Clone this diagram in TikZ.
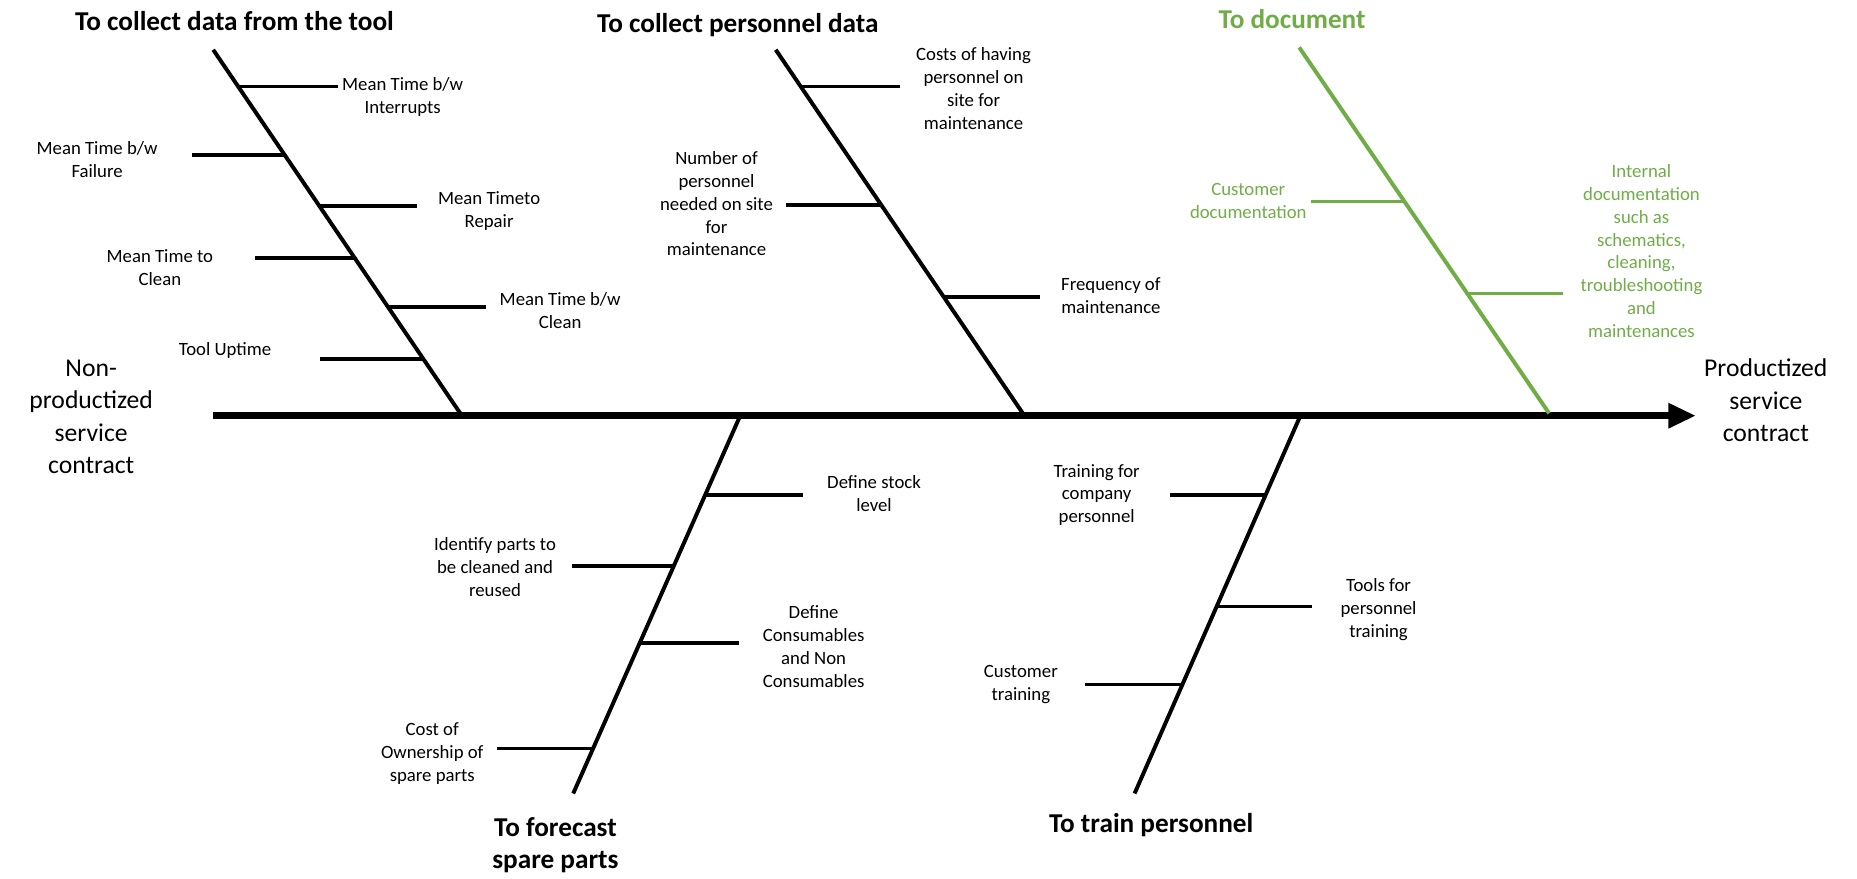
\documentclass[tikz,border=0pt]{standalone}
\usepackage{fontspec}
\setmainfont{Carlito}
\usepackage{xcolor}
\usetikzlibrary{arrows.meta}
\definecolor{docgreen}{HTML}{70AD47}

\begin{document}
\begin{tikzpicture}[x=0.6pt,y=-0.6pt,
  lbl/.style={align=center,inner sep=0pt,font=\fontsize{9.5}{11.6}\selectfont},
  ttl/.style={align=center,inner sep=0pt,font=\fontsize{13.8}{16.2}\selectfont\bfseries},
  big/.style={align=center,inner sep=0pt,font=\fontsize{13}{16.3}\selectfont},
  bone/.style={line width=2pt},
  rib/.style={line width=1.8pt}]
\useasboundingbox (0,0) rectangle (1568,742);

% spine
\coordinate (tail) at (180,351);
\coordinate (head) at (1432,351);
\draw[line width=3.6pt,-{Triangle[length=14pt,width=12pt]}] (tail) -- (head);
\draw (77,352) node[big](start){Non-\\productized\\service\\contract};
\draw (1491,338) node[big](goal){Productized\\service\\contract};

% to collect data from the tool
\draw (198,18) node[ttl](tool){To collect data from the tool};
\coordinate (toolTop) at (180,42);
\coordinate (toolFoot) at (390,351);
\draw[bone] (toolTop) -- (toolFoot);
\coordinate (a1) at (201.1,73);  \coordinate (a1e) at (285,73);
\coordinate (a2) at (240.5,131); \coordinate (a2e) at (162,131);
\coordinate (a3) at (269.7,174); \coordinate (a3e) at (352,174);
\coordinate (a4) at (299.6,218); \coordinate (a4e) at (215,218);
\coordinate (a5) at (327.5,259); \coordinate (a5e) at (410,259);
\coordinate (a6) at (357.4,303); \coordinate (a6e) at (270,303);
\draw[rib] (a1) -- (a1e);
\draw[rib] (a2) -- (a2e);
\draw[rib] (a3) -- (a3e);
\draw[rib] (a4) -- (a4e);
\draw[rib] (a5) -- (a5e);
\draw[rib] (a6) -- (a6e);
\draw (340,82) node[lbl](mtbi){Mean Time b/w\\Interrupts};
\draw (82,135) node[lbl](mtbf){Mean Time b/w\\Failure};
\draw (413,178) node[lbl](mttr){Mean Timeto\\Repair};
\draw (135,226) node[lbl](mttc){Mean Time to\\Clean};
\draw (473,262) node[lbl](mtbc){Mean Time b/w\\Clean};
\draw (190,296) node[lbl](uptime){Tool Uptime};

% to collect personnel data
\draw (623,21) node[ttl](staff){To collect personnel data};
\coordinate (staffTop) at (655,42);
\coordinate (staffFoot) at (865,351);
\draw[bone] (staffTop) -- (staffFoot);
\coordinate (b1) at (676.1,73);  \coordinate (b1e) at (760,73);
\coordinate (b2) at (744.0,173); \coordinate (b2e) at (664,173);
\coordinate (b3) at (797.0,251); \coordinate (b3e) at (878,251);
\draw[rib] (b1) -- (b1e);
\draw[rib] (b2) -- (b2e);
\draw[rib] (b3) -- (b3e);
\draw (822,75) node[lbl](cost){Costs of having\\personnel on\\site for\\maintenance};
\draw (605,172) node[lbl](number){Number of\\personnel\\needed on site\\for\\maintenance};
\draw (938,250) node[lbl](freq){Frequency of\\maintenance};

% to document
\draw (1091,16) node[ttl,text=docgreen](doc){To document};
\coordinate (docTop) at (1097,40);
\coordinate (docFoot) at (1308,349);
\draw[bone,docgreen] (docTop) -- (docFoot);
\coordinate (c1) at (1185.8,170); \coordinate (c1e) at (1107,170);
\coordinate (c2) at (1239.0,248); \coordinate (c2e) at (1320,248);
\draw[rib,docgreen] (c1) -- (c1e);
\draw[rib,docgreen] (c2) -- (c2e);
\draw (1054,170) node[lbl,text=docgreen](custdoc){Customer\\documentation};
\draw (1386,212) node[lbl,text=docgreen](intdoc){Internal\\documentation\\such as\\schematics,\\cleaning,\\troubleshooting\\and\\maintenances};

% to forecast spare parts
\draw (469,714) node[ttl](spare){To forecast\\spare parts};
\coordinate (spareTop) at (625,351);
\coordinate (spareFoot) at (484,670);
\draw[bone] (spareTop) -- (spareFoot);
\coordinate (d1) at (595.4,418); \coordinate (d1e) at (678,418);
\coordinate (d2) at (568.9,478); \coordinate (d2e) at (483,478);
\coordinate (d3) at (540.1,543); \coordinate (d3e) at (624,543);
\coordinate (d4) at (500.8,632); \coordinate (d4e) at (420,632);
\draw[rib] (d1) -- (d1e);
\draw[rib] (d2) -- (d2e);
\draw[rib] (d3) -- (d3e);
\draw[rib] (d4) -- (d4e);
\draw (738,417) node[lbl](stock){Define stock\\level};
\draw (418,479) node[lbl](reuse){Identify parts to\\be cleaned and\\reused};
\draw (687,546) node[lbl](consum){Define\\Consumables\\and Non\\Consumables};
\draw (365,636) node[lbl](owner){Cost of\\Ownership of\\spare parts};

% to train personnel
\draw (972,697) node[ttl](train){To train personnel};
\coordinate (trainTop) at (1098,351);
\coordinate (trainFoot) at (958,670);
\draw[bone] (trainTop) -- (trainFoot);
\coordinate (e1) at (1068.6,418); \coordinate (e1e) at (988,418);
\coordinate (e2) at (1027.3,512); \coordinate (e2e) at (1108,512);
\coordinate (e3) at (998.4,578);  \coordinate (e3e) at (916,578);
\draw[rib] (e1) -- (e1e);
\draw[rib] (e2) -- (e2e);
\draw[rib] (e3) -- (e3e);
\draw (926,418) node[lbl](company){Training for\\company\\personnel};
\draw (1164,515) node[lbl](tools){Tools for\\personnel\\training};
\draw (862,578) node[lbl](custtrain){Customer\\training};
\end{tikzpicture}
\end{document}
